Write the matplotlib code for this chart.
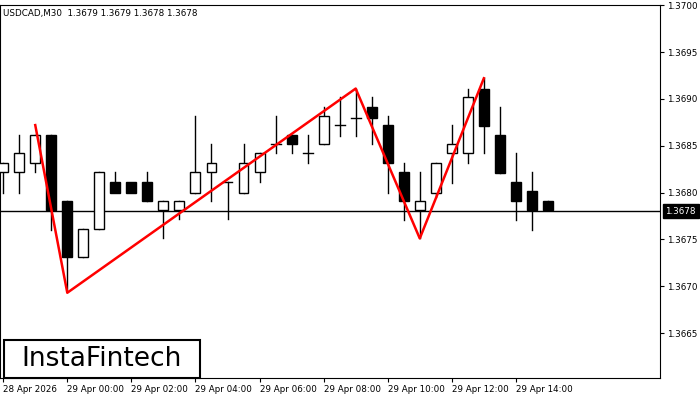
import matplotlib
matplotlib.use('Agg')
import matplotlib.pyplot as plt
from matplotlib.patches import Rectangle

# OHLC of the M30 candles
opens  = [1.36822, 1.36822, 1.36831, 1.36861, 1.36791, 1.36731, 1.36761, 1.36811, 1.36811, 1.36811,
          1.36781, 1.36781, 1.36800, 1.36822, 1.36811, 1.36800, 1.36822, 1.36852, 1.36861, 1.36842,
          1.36852, 1.36872, 1.36880, 1.36891, 1.36872, 1.36822, 1.36781, 1.36800, 1.36842, 1.36842,
          1.36911, 1.36861, 1.36811, 1.36802, 1.36791]
highs  = [1.36831, 1.36861, 1.36861, 1.36861, 1.36791, 1.36761, 1.36822, 1.36822, 1.36811, 1.36822,
          1.36791, 1.36791, 1.36882, 1.36852, 1.36811, 1.36852, 1.36842, 1.36882, 1.36861, 1.36861,
          1.36891, 1.36902, 1.36911, 1.36902, 1.36882, 1.36831, 1.36822, 1.36831, 1.36872, 1.36911,
          1.36922, 1.36891, 1.36842, 1.36822, 1.36791]
lows   = [1.36800, 1.36800, 1.36822, 1.36760, 1.36696, 1.36731, 1.36761, 1.36811, 1.36811, 1.36791,
          1.36751, 1.36772, 1.36800, 1.36791, 1.36772, 1.36800, 1.36811, 1.36842, 1.36842, 1.36831,
          1.36852, 1.36860, 1.36860, 1.36852, 1.36800, 1.36771, 1.36751, 1.36795, 1.36810, 1.36831,
          1.36842, 1.36821, 1.36771, 1.36760, 1.36781]
closes = [1.36831, 1.36842, 1.36861, 1.36781, 1.36731, 1.36761, 1.36822, 1.36800, 1.36800, 1.36791,
          1.36791, 1.36791, 1.36822, 1.36831, 1.36811, 1.36831, 1.36842, 1.36852, 1.36852, 1.36842,
          1.36882, 1.36872, 1.36880, 1.36880, 1.36831, 1.36791, 1.36791, 1.36831, 1.36852, 1.36902,
          1.36871, 1.36821, 1.36791, 1.36781, 1.36781]

# double-top pattern line (candle index, price)
pat_idx = [2, 4, 22, 26, 30]
pat_px = [1.36872, 1.36693, 1.36911, 1.36751, 1.36922]

time_idx = [0, 4, 8, 12, 16, 20, 24, 28, 32]
time_lbl = ['28 Apr 2026', '29 Apr 00:00', '29 Apr 02:00', '29 Apr 04:00', '29 Apr 06:00',
            '29 Apr 08:00', '29 Apr 10:00', '29 Apr 12:00', '29 Apr 14:00']
price_ticks = [1.3665, 1.3670, 1.3675, 1.3680, 1.3685, 1.3690, 1.3695, 1.3700]
last = 1.3678
y0, y1 = 1.36602, 1.37000

fig = plt.figure(figsize=(7, 4), dpi=100)
ax = fig.add_axes([0.0, 0.055, 0.943, 0.932])
w = 0.62
for i in range(len(opens)):
    o, h, l, c = opens[i], highs[i], lows[i], closes[i]
    ax.plot([i, i], [l, h], color='black', lw=1, zorder=2)
    bot, top = min(o, c), max(o, c)
    if top - bot < 1e-6:
        ax.plot([i - w/2, i + w/2], [o, o], color='black', lw=1, zorder=3)
    else:
        ax.add_patch(Rectangle((i - w/2, bot), w, top - bot, facecolor='white' if c > o else 'black',
                               edgecolor='black', lw=1, zorder=3))

ax.axhline(last, color='black', lw=1, zorder=1)
ax.plot(pat_idx, pat_px, color='red', lw=1.8, zorder=4)

ax.set_xlim(-0.2, 41)
ax.set_ylim(y0, y1)
ax.yaxis.tick_right()
ax.set_yticks(price_ticks)
ax.set_yticklabels(['%.4f' % p for p in price_ticks], fontsize=6.3)
ax.set_xticks(time_idx)
ax.set_xticklabels(time_lbl, fontsize=6.3, ha='left')
ax.tick_params(axis='both', length=3, pad=2)
for s in ax.spines.values():
    s.set_linewidth(0.8)

ax.text(1.008, (last - y0) / (y1 - y0), '1.3678', transform=ax.transAxes,
        fontsize=6.3, color='white', va='center', ha='left',
        bbox=dict(boxstyle='square,pad=0.3', facecolor='black', edgecolor='black'))
ax.text(0.005, 0.99, 'USDCAD,M30  1.3679 1.3679 1.3678 1.3678', transform=ax.transAxes,
        fontsize=6.3, va='top', ha='left')

fig.patches.append(Rectangle((0.005, 0.055), 0.281, 0.095, transform=fig.transFigure,
                             facecolor='white', edgecolor='black', lw=1.5, zorder=5))
fig.text(0.145, 0.103, 'InstaFintech', fontsize=19, va='center', ha='center', zorder=6)

fig.savefig('out.png', dpi=100)
